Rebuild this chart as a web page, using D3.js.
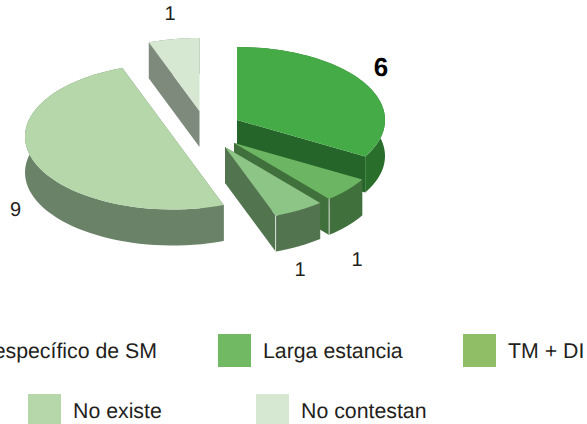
<!DOCTYPE html>
<html>
<head>
<meta charset="utf-8">
<script src="https://cdn.jsdelivr.net/npm/d3@7/dist/d3.min.js"></script>
<style>
  html, body { margin: 0; padding: 0; background: #fff; overflow: hidden; }
  svg { display: block; }
  text { font-family: "Liberation Sans", Arial, sans-serif; fill: #231f20; text-rendering: geometricPrecision; }
</style>
</head>
<body>
<svg width="587" height="424"></svg>
<script>
// datos
const categories = ["específico de SM", "Larga estancia", "TM + DI", "No existe", "No contestan"];
const values = [6, 1, 1, 9, 1];

const topColors = ["#45ab46", "#6cb562", "#8dc587", "#b5d7a9", "#d6e8d2"];
const rimColors = ["#2a6e2c", "#40703c", "#52754f", "#6a8268", "#7d8a7c"];
const wallColors = ["#26652a", "#40703c", "#52754f", "#6a8268", "#7d8a7c"];
const legendColors = ["#45ab46", "#72b963", "#8fbe67", "#b5d7a9", "#d6e8d2"];

const svg = d3.select("svg");

// proyeccion del pastel 3D
const cx = 213, cy = 133;
const rx = 148, ry = 73, depth = 36;
// cuanto se separa cada porcion del centro
const explode = [[24, -13], [21, 10], [12, 14], [-40, 3.5], [-13.5, -22]];

const pie = d3.pie().sort(null).startAngle(0).endAngle(2 * Math.PI);
const slices = pie(values);

function pt(i, a, drop) {
  return [
    cx + explode[i][0] + rx * Math.sin(a),
    cy + explode[i][1] - ry * Math.cos(a) + drop
  ];
}
function apex(i, drop) {
  return [cx + explode[i][0], cy + explode[i][1] + drop];
}
function arcPts(i, s, drop) {
  const n = 60;
  return d3.range(n + 1).map(k => pt(i, s.startAngle + (s.endAngle - s.startAngle) * k / n, drop));
}

const line = d3.line();
const g = svg.append("g");

slices.forEach((s, i) => {
  const sg = g.append("g").attr("class", "slice");

  // paredes de los cortes
  [s.startAngle, s.endAngle].forEach(a => {
    sg.append("path")
      .attr("d", line([apex(i, 0), pt(i, a, 0), pt(i, a, depth), apex(i, depth)]) + "Z")
      .attr("fill", wallColors[i]);
  });

  // borde exterior
  const rim = arcPts(i, s, 0).concat(arcPts(i, s, depth).reverse());
  sg.append("path")
    .attr("d", line(rim) + "Z")
    .attr("fill", rimColors[i]);

  // cara superior
  sg.append("path")
    .attr("d", line([apex(i, 0)].concat(arcPts(i, s, 0))) + "Z")
    .attr("fill", topColors[i]);

  // filo claro en las dos porciones pequenas
  if (i === 1 || i === 2) {
    sg.append("path")
      .attr("d", line([pt(i, s.endAngle, 0), pt(i, s.endAngle, depth)]))
      .attr("stroke", "#fff")
      .attr("stroke-opacity", 0.75)
      .attr("stroke-width", 1)
      .attr("fill", "none");
  }
});

// etiquetas de valores
const labelX = [381, 357, 300, 15.5, 170];
const labelY = [76, 265.5, 275.5, 215.5, 20];

svg.selectAll(".value")
  .data(values)
  .enter()
  .append("text")
    .attr("class", "value")
    .attr("x", (d, i) => labelX[i])
    .attr("y", (d, i) => labelY[i])
    .attr("text-anchor", "middle")
    .style("font-size", (d, i) => i === 0 ? "26px" : "20px")
    .style("font-weight", (d, i) => i === 0 ? "bold" : "normal")
    .style("fill", (d, i) => i === 0 ? "#000" : "#231f20")
    .text(d => d);

// leyenda
const legendX = [-27, 218, 463, 28, 256];
const legendY = [334, 334, 334, 394, 394];
const swatch = 33;

const legend = svg.selectAll(".legend")
  .data(categories)
  .enter()
  .append("g")
    .attr("class", "legend")
    .attr("transform", (d, i) => `translate(${legendX[i]},${legendY[i]})`);

legend.filter((d, i) => i > 0).append("rect")
  .attr("width", swatch)
  .attr("height", swatch)
  .attr("fill", (d, i) => legendColors[i + 1]);

legend.append("text")
  .attr("x", (d, i) => i === 0 ? 184 : swatch + 12)
  .attr("y", 24)
  .attr("text-anchor", (d, i) => i === 0 ? "end" : "start")
  .style("font-size", "21.3px")
  .text(d => d);
</script>
</body>
</html>
